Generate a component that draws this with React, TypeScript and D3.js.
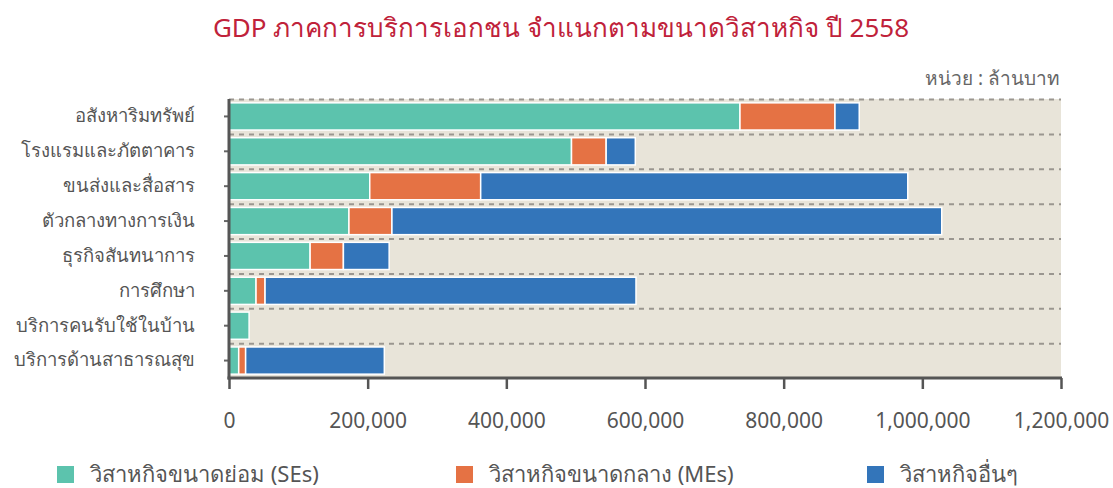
import * as d3 from "d3";
import { useEffect, useRef } from "react";

const categories = [
  "อสังหาริมทรัพย์",
  "โรงแรมและภัตตาคาร",
  "ขนส่งและสื่อสาร",
  "ตัวกลางทางการเงิน",
  "ธุรกิจสันทนาการ",
  "การศึกษา",
  "บริการคนรับใช้ในบ้าน",
  "บริการด้านสาธารณสุข",
];

const seriesNames = [
  "วิสาหกิจขนาดย่อม (SEs)",
  "วิสาหกิจขนาดกลาง (MEs)",
  "วิสาหกิจอื่นๆ",
];

const smallValues = [737000, 494000, 203000, 173000, 117000, 39000, 29000, 14000];
const mediumValues = [137000, 50000, 160000, 62000, 48000, 13000, 0, 10000];
const otherValues = [35000, 42000, 616000, 793000, 66000, 535000, 0, 200000];

const xTicks = [0, 200000, 400000, 600000, 800000, 1000000, 1200000];

const colors = ["#5cc3ad", "#e57244", "#3375ba"];

const FONT = "'Noto Sans', sans-serif";

const App = () => {
  const chartRef = useRef(null);

  const width = 1113;
  const height = 488;

  const margin = {
    top: 99,
    bottom: 110,
    left: 229,
    right: 52
  };

  const boundsWidth = width - margin.left - margin.right;
  const boundsHeight = height - margin.top - margin.bottom;

  useEffect(() => {
    const svg = d3.select(chartRef.current);
    svg.selectAll("*").remove();

    const scaleX = d3.scaleLinear().domain([0, 1200000]).range([0, boundsWidth]);
    const scaleY = d3
      .scaleBand()
      .domain(categories)
      .range([0, boundsHeight])
      .paddingInner(0.22)
      .paddingOuter(0.11);

    const rows = categories.map((c, i) => ({
      category: c,
      v0: smallValues[i],
      v1: mediumValues[i],
      v2: otherValues[i]
    }));

    const stack = d3.stack().keys(["v0", "v1", "v2"]);
    const stacked = stack(rows);

    // title
    svg.append("text")
      .attr("x", 561)
      .attr("y", 37)
      .attr("text-anchor", "middle")
      .style("font-family", FONT)
      .style("font-size", "26px")
      .style("font-weight", "400")
      .style("fill", "#c0223a")
      .text("GDP ภาคการบริการเอกชน จำแนกตามขนาดวิสาหกิจ ปี 2558");

    svg.append("text")
      .attr("x", 1060)
      .attr("y", 85)
      .attr("text-anchor", "end")
      .style("font-family", FONT)
      .style("font-size", "19px")
      .style("fill", "#666")
      .text("หน่วย : ล้านบาท");

    const g = svg.append("g")
      .attr("transform", `translate(${margin.left}, ${margin.top})`);

    g.append("rect")
      .attr("x", 0)
      .attr("y", 0)
      .attr("width", boundsWidth)
      .attr("height", boundsHeight)
      .style("fill", "#e8e4d9");

    // dashed lines at top of each band
    const step = scaleY.step();
    categories.forEach((c, i) => {
      const y = i * step + 0.5;
      g.append("line")
        .attr("x1", 0)
        .attr("x2", boundsWidth)
        .attr("y1", y)
        .attr("y2", y)
        .style("stroke", "#9a9690")
        .style("stroke-width", 2)
        .style("stroke-dasharray", "5,5");
    });

    stacked.forEach((layer, li) => {
      g.selectAll(`.bar-${li}`)
        .data(layer)
        .enter()
        .append("rect")
        .attr("x", d => scaleX(d[0]))
        .attr("y", d => scaleY(d.data.category))
        .attr("width", d => Math.max(0, scaleX(d[1]) - scaleX(d[0])))
        .attr("height", scaleY.bandwidth())
        .style("fill", colors[li])
        .style("stroke", "#fff")
        .style("stroke-width", 1.5)
        .style("display", d => (d[1] - d[0] > 0 ? null : "none"));
    });

    // y axis
    const yAxis = d3.axisLeft(scaleY).tickSize(5).tickPadding(29);
    const yg = g.append("g").call(yAxis);
    yg.select(".domain").remove();
    yg.selectAll("line").style("stroke", "#666").style("stroke-width", 2);
    yg.selectAll("text")
      .style("font-family", FONT)
      .style("font-size", "18.5px")
      .style("fill", "#555");

    // x axis
    const xAxis = d3.axisBottom(scaleX)
      .tickValues(xTicks)
      .tickSize(11)
      .tickSizeOuter(0)
      .tickPadding(24)
      .tickFormat(d3.format(","));
    const xg = g.append("g")
      .attr("transform", `translate(0, ${boundsHeight})`)
      .call(xAxis);
    xg.select(".domain").remove();
    xg.selectAll("line").style("stroke", "#555").style("stroke-width", 2.5);
    xg.selectAll("text")
      .style("font-family", FONT)
      .style("font-size", "21px")
      .style("fill", "#555");

    g.append("line")
      .attr("x1", 0).attr("x2", 0)
      .attr("y1", 0).attr("y2", boundsHeight + 1.5)
      .style("stroke", "#555")
      .style("stroke-width", 3);
    g.append("line")
      .attr("x1", -1.5).attr("x2", boundsWidth + 1)
      .attr("y1", boundsHeight).attr("y2", boundsHeight)
      .style("stroke", "#555")
      .style("stroke-width", 3);

    // legend
    const legendX = [57, 456, 867];
    seriesNames.forEach((name, i) => {
      const lg = svg.append("g").attr("transform", `translate(${legendX[i]}, 466)`);
      lg.append("rect")
        .attr("width", 17)
        .attr("height", 17)
        .style("fill", colors[i]);
      lg.append("text")
        .attr("x", 33)
        .attr("y", 16)
        .style("font-family", FONT)
        .style("font-size", "22px")
        .style("fill", "#555")
        .text(name);
    });
  }, []);

  return (
    <svg
      ref={chartRef}
      width={width}
      height={height}
      style={{ position: "absolute", left: 0, top: 0, background: "#fff" }}
    ></svg>
  );
};

export default App;
